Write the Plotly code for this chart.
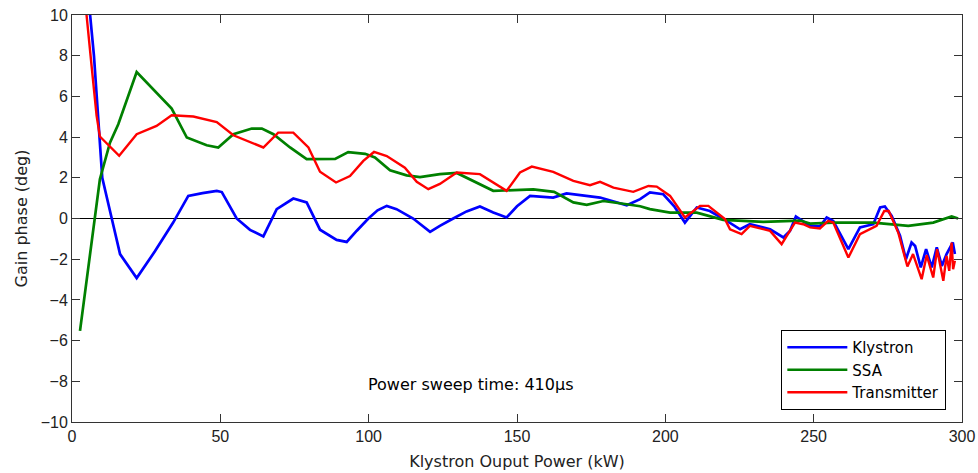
import plotly.graph_objects as go

# Klystron output power (kW) and gain phase (deg)
klystron_x = [5.5, 6.1, 7.4, 8.3, 9.1, 10.2, 13.4, 16.2, 21.8, 28.0, 34.1, 39.2, 44.0, 48.8, 50.5, 55.5,
              60.0, 64.5, 69.0, 74.6, 79.1, 83.6, 89.2, 92.6, 96.0, 99.9, 103.0, 106.1, 109.4, 115.0,
              120.7, 124.0, 128.5, 133.0, 137.5, 142.0, 146.5, 150.0, 154.4, 162.2, 166.7, 178.0,
              187.0, 191.5, 194.8, 199.3, 203.0, 206.6, 210.6, 215.0, 220.7, 225.2, 228.5, 235.3,
              239.8, 242.0, 244.0, 246.5, 248.8, 252.1, 254.4, 256.6, 261.7, 265.6, 270.1, 272.4,
              274.0, 276.3, 279.1, 281.1, 283.0, 284.2, 286.1, 287.9, 289.8, 291.5, 293.2, 294.8,
              296.9, 297.6]
klystron_y = [12.0, 10.0, 8.0, 6.0, 4.0, 2.0, 0.0, -1.75, -2.93, -1.6, -0.2, 1.11, 1.25, 1.36, 1.3, 0.0,
              -0.56, -0.88, 0.46, 0.98, 0.79, -0.55, -1.05, -1.15, -0.6, 0.0, 0.4, 0.62, 0.46, 0.0,
              -0.66, -0.36, 0.0, 0.35, 0.59, 0.3, 0.05, 0.6, 1.11, 1.03, 1.23, 1.03,
              0.65, 0.95, 1.28, 1.19, 0.6, -0.2, 0.54, 0.37, -0.12, -0.53, -0.28, -0.53,
              -0.93, -0.61, 0.1, -0.12, -0.36, -0.39, 0.05, -0.12, -1.51, -0.44, -0.28, 0.54,
              0.59, 0.13, -0.85, -2.0, -1.18, -1.35, -2.4, -1.51, -2.4, -1.42, -2.33, -1.75,
              -1.18, -1.75]

ssa_x = [2.7, 7.75, 9.4, 12.8, 15.6, 21.8, 33.6, 38.7, 45.4, 49.3, 54.4, 60.6, 64.0, 67.9, 73.5,
         79.1, 88.7, 93.1, 98.8, 102.1, 107.2, 112.8, 117.3, 124.0, 129.7, 142.0, 155.5, 162.5,
         169.0, 173.5, 179.1, 187.0, 191.5, 194.8, 201.6, 210.6, 219.5, 233.0, 245.4, 248.8,
         256.6, 270.0, 281.9, 290.3, 296.5, 298.7]
ssa_y = [-5.52, 0.0, 1.93, 3.73, 4.63, 7.2, 5.4, 3.98, 3.6, 3.49, 4.14, 4.42, 4.42, 4.14, 3.49,
         2.92, 2.93, 3.26, 3.18, 3.0, 2.37, 2.12, 2.03, 2.18, 2.24, 1.36, 1.43, 1.31,
         0.79, 0.67, 0.86, 0.7, 0.6, 0.46, 0.29, 0.29, -0.07, -0.17, -0.1, -0.25,
         -0.2, -0.2, -0.36, -0.2, 0.1, 0.0]

transmitter_x = [4.2, 4.9, 6.6, 8.3, 9.4, 15.9, 21.8, 28.5, 33.6, 40.9, 48.8, 54.4, 64.5, 69.5, 74.6,
                 79.7, 83.6, 89.0, 93.7, 98.2, 101.8, 106.1, 112.2, 116.2, 120.1, 124.0, 129.7,
                 137.5, 146.5, 151.0, 155.0, 162.2, 169.0, 174.6, 178.0, 182.5, 189.2, 194.3,
                 197.1, 201.6, 206.6, 211.7, 214.5, 220.1, 221.8, 225.7, 228.5, 235.3, 239.2,
                 242.0, 243.7, 246.5, 248.8, 252.1, 254.9, 256.6, 261.7, 265.6, 271.2, 273.8,
                 275.3, 278.5, 281.6, 283.5, 286.4, 288.1, 290.3, 291.6, 293.7, 294.8, 295.7,
                 296.5, 297.0, 297.6]
transmitter_y = [12.0, 10.0, 7.5, 5.04, 4.03, 3.08, 4.14, 4.55, 5.07, 5.01, 4.74, 4.09, 3.49, 4.22, 4.22,
                 3.49, 2.3, 1.77, 2.09, 2.83, 3.27, 3.07, 2.5, 1.8, 1.44, 1.7, 2.26,
                 2.18, 1.36, 2.26, 2.55, 2.29, 1.85, 1.64, 1.8, 1.52, 1.31, 1.6,
                 1.57, 1.11, 0.05, 0.62, 0.62, -0.03, -0.53, -0.77, -0.36, -0.61, -1.26,
                 -0.61, -0.2, -0.28, -0.44, -0.49, -0.12, -0.2, -1.92, -0.77, -0.36, 0.37,
                 0.37, -0.69, -2.36, -1.75, -2.98, -1.8, -2.9, -1.51, -3.06, -1.84, -2.57,
                 -1.18, -2.49, -2.08]

x_ticks = [0, 50, 100, 150, 200, 250, 300]
y_ticks = [-10, -8, -6, -4, -2, 0, 2, 4, 6, 8, 10]

NUM_FONT = "Liberation Sans, Arial, sans-serif"
TXT_FONT = "DejaVu Sans, Verdana, sans-serif"

fig = go.Figure()
fig.add_trace(go.Scatter(x=klystron_x, y=klystron_y, mode="lines", name="Klystron",
                         line=dict(color="#0000FF", width=2.7)))
fig.add_trace(go.Scatter(x=ssa_x, y=ssa_y, mode="lines", name="SSA",
                         line=dict(color="#008000", width=2.7)))
fig.add_trace(go.Scatter(x=transmitter_x, y=transmitter_y, mode="lines", name="Transmitter",
                         line=dict(color="#FF0000", width=2.4)))

fig.add_hline(y=0, line=dict(color="black", width=1), layer="below")

fig.add_annotation(x=134.5, y=-8.15, text="Power sweep time: 410µs", showarrow=False,
                   font=dict(family=TXT_FONT, size=16, color="black"))

axis_common = dict(showline=True, linecolor="#333333", linewidth=1, mirror="ticks",
                   ticks="inside", ticklen=8, tickcolor="#333333", showgrid=False,
                   zeroline=False, automargin=False,
                   tickfont=dict(family=NUM_FONT, size=16, color="#222222"))

fig.update_layout(
    width=978, height=473,
    margin=dict(l=72, r=16, t=15, b=51, autoexpand=False),
    paper_bgcolor="white", plot_bgcolor="white",
    font=dict(family=NUM_FONT, size=15, color="#222222"),
    xaxis=dict(range=[0, 300], tickvals=x_ticks,
               title=dict(text="Klystron Ouput Power (kW)", standoff=11,
                          font=dict(family=TXT_FONT, size=16)),
               **axis_common),
    yaxis=dict(range=[-10, 10], tickvals=y_ticks,
               title=dict(text="Gain phase (deg)", standoff=9,
                          font=dict(family=TXT_FONT, size=16)),
               **axis_common),
    legend=dict(x=0.797, y=0.226, xanchor="left", yanchor="top",
                bgcolor="white", bordercolor="black", borderwidth=1,
                font=dict(family=TXT_FONT, size=15, color="black"),
                itemwidth=60, tracegroupgap=0),
    showlegend=True,
)

fig.write_html("out.html")
